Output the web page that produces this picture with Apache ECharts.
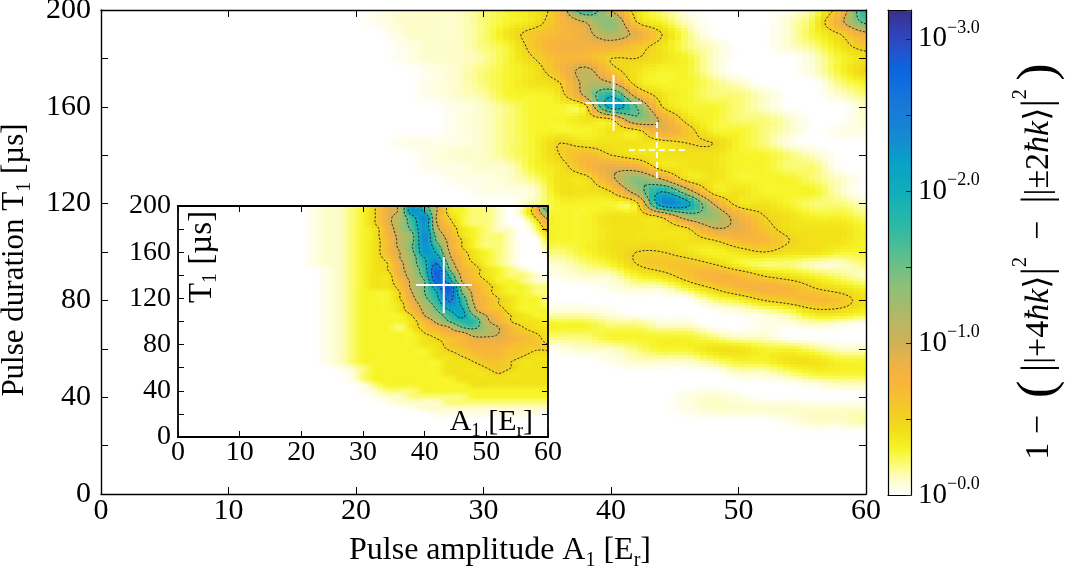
<!DOCTYPE html>
<html>
<head>
<meta charset="utf-8">
<script src="https://cdn.jsdelivr.net/npm/echarts@6.0.0/dist/echarts.min.js"></script>
<style>
html,body{margin:0;padding:0;background:#ffffff;}
#chart{width:1085px;height:570px;}
</style>
</head>
<body>
<div id="chart"></div>
<script>
// ---------------- data ----------------
// grid nodes: pulse amplitude A1 [Er] and pulse duration T1 [us]
const xNodes = [0,2,4,6,8,10,12,14,16,18,20,22,24,26,28,30,32,34,36,38,40,42,44,46,48,50,52,54,56,58,60];
const yNodes = [200,195,190,185,180,175,170,165,160,155,150,145,140,135,130,125,120,115,110,105,100,95,90,85,80,75,70,65,60,55,50,45,40,35,30,25,20,15,10,5,0];
// v = -log10(infidelity); one char per node: '0'..'9' = 0.0..0.9, 'a'..'w' = 1.0..3.2,
// '.' = 0.05, ',' = 0.15 (faint edges). Rows: T1 = 200 (top) ... 0 (bottom); columns: A1 = 0 ... 60
const mainRows = [
"0000000000"+"0.1112347ia42.000.27j",
"0000000000"+"0.1112347ae531000139g",
"0000000000"+"0011124679c9520001359",
"0000000000"+"00.112368886421001246",
"0000000000"+"00.11,357755431000134",
"0000000000"+"000.12347b64331000135",
"0000000000"+"000.12345ba4332100023",
"0000000000"+"000.1,334bj8432210012",
"0000000000"+"0000.12334mf533210001",
"0000000000"+"0000.123345e943221001",
"0000000000"+"0000.12333449633210..",
"0000000000"+"00...123544445532.000",
"0000000000"+"000.11235754444332100",
"0000000000"+"000..1134798444332200",
"0000000000"+"0000..12449ea44333210",
"0000000000"+"00000..1445ckc4433310",
"0000000000"+"0000000,3334nla443221",
"0000000000"+"0000000333446dd854332",
"0000000000"+"00000003334445a964443",
"0000000000"+"000000033344445775443",
"0000000000"+"000000022345543454433",
"0000000000"+"000000011235665322112",
"0000000000"+"00000000.113468754321",
"0000000000"+"0000000000.1135787543",
"0000000000"+"000000000000002356764",
"0000000000"+"0000000111.0000.12443",
"0000000000"+"0000000333221100..1.0",
"0000000000"+"000000022233332110000",
"0000000000"+"00000000.112334433211",
"0000000000"+"0000000000.1112334433",
"0000000000"+"000000000000000112333",
"0000000000"+"000000000000000000.11",
"0000000000"+"0000000000000.1.00000",
"0000000000"+"0000000000000.1111111",
"0000000000"+"00000000000000000.11,",
"0000000000"+"000000000000000000000",
"0000000000"+"000000000000000000000",
"0000000000"+"000000000000000000000",
"0000000000"+"000000000000000000000",
"0000000000"+"000000000000000000000",
"0000000000"+"000000000000000000000"
];
const insetRows = [
"00000000000"+".112359bnha43221017k",
"00000000000"+".112359bnja43221027f",
"00000000000"+".112359cio953221015b",
"00000000000"+".112359chna632210038",
"00000000000"+".112348cgnb743211026",
"00000000000"+".112348beod843221014",
"00000000000"+".112347beoe953221003",
"00000000000"+".112347bfnh953221002",
"00000000000"+".112347aenja64321001",
"00000000000"+".112346adkmb74321000",
"00000000000"+".1123459djpd75321000",
"00000000000"+"0.123459cisf86432100",
"00000000000"+"0.123448chtj96432210",
"00000000000"+"0.123447bfrma7533211",
"00000000000"+"0.123446bfntd8643322",
"00000000000"+"0.123335afksf9643322",
"00000000000"+"0.1233359ejqi9754332",
"00000000000"+"0.1233348choja754332",
"00000000000"+"0.1233347bfklb764333",
"00000000000"+"0.1233335adhlfa75433",
"00000000000"+"0.12333347bfiib85443",
"00000000000"+"0.123332468afgca7544",
"00000000000"+"0.12333335689cca7654",
"00000000000"+"0.123333345679998764",
"00000000000"+"0.123333344678887665",
"00000000000"+"0.123333334567776655",
"00000000000"+"0.123333334456776544",
"00000000000"+"0.123333333445665444",
"00000000000"+"00.12333333444565444",
"00000000000"+"000.2333333444454444",
"00000000000"+"000.2333333344444444",
"00000000000"+"0000.233333334444444",
"00000000000"+"0000.122233333333333",
"00000000000"+"00000.11222223333333",
"00000000000"+"000000.1111222222222",
"00000000000"+"00000000.11111111111",
"00000000000"+"0000000000.........",
"00000000000"+"00000000000000000000",
"00000000000"+"00000000000000000000",
"00000000000"+"00000000000000000000",
"00000000000"+"00000000000000000000"
];
const crossMain = [[40.2, 161.6]];
const crossMainDashed = [[43.6, 142.1]];
const crossInset = [[43.1, 131.6]];
const contourLevels = [0.5, 1.0, 1.5, 2.0, 2.5];
const cbTickLabels = [0, 1, 2, 3];
const V_MAX = 3.19;
// colour scale, evenly spaced from v = 0 (white) to v = V_MAX (dark navy)
const palette = ['#ffffff','#fdfdcc','#fbfb78','#f7f52a','#f2e318','#f1d322','#f5c62c','#f8b838','#f6b240',
  '#e6b249','#d0b157','#bfb65e','#aeba66','#9bbd70','#88bf7b','#70bf86','#55be92','#3ebb9c','#2ab8a6',
  '#1cb3b0','#10aebb','#0ca7c2','#0aa0c8','#1093ce','#1686d4','#177ed6','#1876d8','#116edc','#0a66e0',
  '#1c58d0','#2e48c2','#333ca6','#36308a'];

// ---------------- helpers ----------------
const FONT = "'Liberation Serif','DejaVu Serif','Times New Roman',serif";
const SPECIAL = {'.':0.05, ',':0.15};
function decode(rows){
  return rows.map(r => { const a = Array.from(r).map(ch => (ch in SPECIAL) ? SPECIAL[ch] : parseInt(ch,36)/10);
    while (a.length < xNodes.length) a.push(0); return a.slice(0, xNodes.length); });
}
const mainGrid = decode(mainRows);
const insetGrid = decode(insetRows);

function hexRgb(h){ return [parseInt(h.substr(1,2),16),parseInt(h.substr(3,2),16),parseInt(h.substr(5,2),16)]; }
function lerpColor(t){
  if (echarts.color && typeof echarts.color.lerp === 'function') return echarts.color.lerp(t, palette);
  const n = palette.length-1, f = t*n, i = Math.min(Math.floor(f), n-1), r = f-i;
  const a = hexRgb(palette[i]), b = hexRgb(palette[i+1]);
  return 'rgb('+a.map((c,k)=>Math.round(c+(b[k]-c)*r)).join(',')+')';
}
const colorCache = new Map();
function colorOf(v){
  const k = Math.max(0, Math.min(Math.round(v*100), Math.round(V_MAX*100)));
  let c = colorCache.get(k);
  if (!c){ c = lerpColor(k/100/V_MAX); colorCache.set(k,c); }
  return c;
}
// smooth (Catmull-Rom) resampling of the node grid, used for drawing and contouring
function cr(p0,p1,p2,p3,t){ return 0.5*(2*p1+(-p0+p2)*t+(2*p0-5*p1+4*p2-p3)*t*t+(-p0+3*p1-3*p2+p3)*t*t*t); }
function refine(G,S){
  const nx=xNodes.length, ny=yNodes.length, F=[];
  const g=(j,i)=>G[Math.max(0,Math.min(ny-1,j))][Math.max(0,Math.min(nx-1,i))];
  for (let fy=0; fy<=(ny-1)*S; fy++){
    const j=Math.min(Math.floor(fy/S), ny-2), w=fy/S-j, row=[];
    for (let fx=0; fx<=(nx-1)*S; fx++){
      const i=Math.min(Math.floor(fx/S), nx-2), u=fx/S-i, r=[];
      for (let k=-1;k<=2;k++) r.push(cr(g(j+k,i-1),g(j+k,i),g(j+k,i+1),g(j+k,i+2),u));
      row.push(Math.max(0, cr(r[0],r[1],r[2],r[3],w)));
    }
    F.push(row);
  }
  return F;
}
function cellData(G){
  const out = [];
  for (let j=0;j<yNodes.length-1;j++) for (let i=0;i<xNodes.length-1;i++){
    const tl=G[j][i], tr=G[j][i+1], bl=G[j+1][i], br=G[j+1][i+1];
    if (tl+tr+bl+br===0) continue;
    out.push([xNodes[i], yNodes[j+1], xNodes[i+1], yNodes[j], i, j]);
  }
  return out;
}
function heatRender(F,S){
  return function(params, api){
    const p0 = api.coord([api.value(0), api.value(1)]);   // bottom-left
    const p1 = api.coord([api.value(2), api.value(3)]);   // top-right
    const i = api.value(4), j = api.value(5);
    const children = [];
    for (let a=0;a<S;a++){
      const xa=Math.round(p0[0]+(p1[0]-p0[0])*a/S), xb=Math.round(p0[0]+(p1[0]-p0[0])*(a+1)/S);
      const fx=i*S+a;
      for (let b=0;b<S;b++){
        const fy=j*S+b;
        const v=(F[fy][fx]+F[fy][fx+1]+F[fy+1][fx]+F[fy+1][fx+1])/4;
        if (v<0.008) continue;
        const yt=Math.round(p1[1]+(p0[1]-p1[1])*b/S), yb=Math.round(p1[1]+(p0[1]-p1[1])*(b+1)/S);
        children.push({type:'rect', shape:{x:xa, y:yt, width:xb-xa, height:yb-yt}, style:{fill:colorOf(v)}});
      }
    }
    return {type:'group', children:children};
  };
}
function contourLines(F, S, level0){
  const L = level0 - 1e-3;
  const dx=(xNodes[1]-xNodes[0])/S, dy=(yNodes[0]-yNodes[1])/S, X0=xNodes[0], YT=yNodes[0];
  const pts=new Map(), segs=[];
  const rows=F.length, cols=F[0].length;
  function ep(key,xa,ya,va,xb,yb,vb){ if(!pts.has(key)){ const t=(L-va)/(vb-va); pts.set(key,[xa+(xb-xa)*t, ya+(yb-ya)*t]); } return key; }
  for (let fy=0; fy<rows-1; fy++) for (let fx=0; fx<cols-1; fx++){
    const a=F[fy][fx], b=F[fy][fx+1], c=F[fy+1][fx+1], d=F[fy+1][fx];
    const idx=(a>=L?8:0)|(b>=L?4:0)|(c>=L?2:0)|(d>=L?1:0);
    if (idx===0||idx===15) continue;
    const x0=X0+fx*dx, x1=x0+dx, yt=YT-fy*dy, yb=yt-dy;
    const T=()=>ep('h'+fy+'_'+fx,x0,yt,a,x1,yt,b);
    const B=()=>ep('h'+(fy+1)+'_'+fx,x0,yb,d,x1,yb,c);
    const Lf=()=>ep('v'+fy+'_'+fx,x0,yt,a,x0,yb,d);
    const R=()=>ep('v'+fy+'_'+(fx+1),x1,yt,b,x1,yb,c);
    const ctr=(a+b+c+d)/4>=L;
    switch(idx){
      case 1: case 14: segs.push([Lf(),B()]); break;
      case 2: case 13: segs.push([B(),R()]); break;
      case 3: case 12: segs.push([Lf(),R()]); break;
      case 4: case 11: segs.push([T(),R()]); break;
      case 6: case 9: segs.push([T(),B()]); break;
      case 7: case 8: segs.push([T(),Lf()]); break;
      case 5: if(ctr){segs.push([T(),Lf()]);segs.push([B(),R()]);} else {segs.push([T(),R()]);segs.push([Lf(),B()]);} break;
      case 10: if(ctr){segs.push([T(),R()]);segs.push([Lf(),B()]);} else {segs.push([T(),Lf()]);segs.push([B(),R()]);} break;
    }
  }
  const adj=new Map();
  segs.forEach((s,k)=>{ s.forEach(e=>{ if(!adj.has(e)) adj.set(e,[]); adj.get(e).push(k); }); });
  const used=new Array(segs.length).fill(false), lines=[];
  function grow(chain){
    while(true){
      const end=chain[chain.length-1], list=adj.get(end)||[];
      let nk=-1; for (const q of list) if(!used[q]){nk=q;break;}
      if (nk<0) break;
      used[nk]=true; const s=segs[nk]; chain.push(s[0]===end?s[1]:s[0]);
    }
  }
  for (let k=0;k<segs.length;k++){
    if (used[k]) continue;
    used[k]=true;
    const chain=[segs[k][0],segs[k][1]];
    grow(chain); chain.reverse(); grow(chain);
    lines.push(chain.map(key=>pts.get(key)));
  }
  return lines;
}
function allContours(F,S){
  let out=[];
  contourLevels.forEach(l=>{ out=out.concat(contourLines(F,S,l)); });
  return out;
}
const S_MAIN = 4, S_INSET = 4;
const mainFine = refine(mainGrid, S_MAIN);
const insetFine = refine(insetGrid, S_INSET);
const mainLines = allContours(mainFine, S_MAIN);
const insetLines = allContours(insetFine, S_INSET);

function heatSeries(G, F, S, xi, yi, z){
  return {type:'custom', xAxisIndex:xi, yAxisIndex:yi, z:z, silent:true, clip:true, progressive:0,
    encode:{x:[0,2], y:[1,3]}, data:cellData(G), renderItem:heatRender(F,S)};
}
function contourSeries(lines, xi, yi, z){
  return {type:'custom', xAxisIndex:xi, yAxisIndex:yi, z:z, silent:true, clip:true, progressive:0,
    encode:{x:0, y:1}, data:lines.map((ln,k)=>[ln[0][0], ln[0][1], k]),
    renderItem:function(params, api){
      const ln=lines[api.value(2)];
      return {type:'polyline', shape:{points:ln.map(p=>api.coord(p))},
        style:{stroke:'#1a1a1a', lineWidth:0.9, lineDash:[2.2,1.6], fill:null}};
    }};
}
function crossSeries(pts, xi, yi, dashed, z){
  return {type:'custom', xAxisIndex:xi, yAxisIndex:yi, z:z, silent:true, encode:{x:0,y:1}, data:pts,
    renderItem:function(params, api){
      const c=api.coord([api.value(0), api.value(1)]), h=28;
      const st={stroke:'#ffffff', lineWidth:2};
      if (dashed) st.lineDash=[6,4];
      return {type:'group', children:[
        {type:'line', shape:{x1:c[0]-h,y1:c[1],x2:c[0]+h,y2:c[1]}, style:Object.assign({},st)},
        {type:'line', shape:{x1:c[0],y1:c[1]-h,x2:c[0],y2:c[1]+h}, style:Object.assign({},st)}]};
    }};
}
const insetBg = {type:'custom', xAxisIndex:2, yAxisIndex:2, z:5, silent:true, encode:{x:[0,2],y:[1,3]},
  data:[[0,0,60,200]],
  renderItem:function(params, api){
    const p0=api.coord([api.value(0),api.value(1)]), p1=api.coord([api.value(2),api.value(3)]);
    return {type:'rect', shape:{x:p0[0], y:p1[1], width:p1[0]-p0[0], height:p0[1]-p1[1]}, style:{fill:'#ffffff'}};
  }};

// ---------------- axes ----------------
const black = '#000000';
function tick(len){ return {show:true, inside:true, length:len, lineStyle:{color:black, width:1}}; }
function line(w){ return {show:true, onZero:false, lineStyle:{color:black, width:w}}; }
const subRich = {s:{fontFamily:FONT, fontSize:20, lineHeight:20, verticalAlign:'bottom', color:black}};

const option = {
  animation:false,
  backgroundColor:'#ffffff',
  textStyle:{fontFamily:FONT},
  grid:[
    {left:101, top:10, width:765, height:484, outerBoundsMode:'none', containLabel:false},
    {left:178, top:206, width:370, height:231, outerBoundsMode:'none', containLabel:false},
    {left:888, top:10, width:23, height:485, outerBoundsMode:'none', containLabel:false}
  ],
  visualMap:{type:'continuous', min:0, max:V_MAX, inRange:{color:palette}, orient:'vertical',
    left:888, top:10, padding:0, itemWidth:23, itemHeight:485, calculable:false, hoverLink:false,
    text:null, seriesIndex:[], show:true, z:4},
  xAxis:[
    {gridIndex:0, type:'value', min:0, max:60, interval:10, position:'bottom', z:10,
      axisLine:line(1.4), axisTick:tick(7), splitLine:{show:false},
      axisLabel:{fontFamily:FONT, fontSize:30, color:black, margin:2},
      name:'Pulse amplitude A{s|1} [E{s|r}]', nameLocation:'middle', nameGap:34,
      nameTextStyle:{fontFamily:FONT, fontSize:32, color:black, lineHeight:40, padding:[0,0,0,33], rich:subRich}},
    {gridIndex:0, type:'value', min:0, max:60, interval:10, position:'top', z:10,
      axisLine:line(1.4), axisTick:tick(7), axisLabel:{show:false}, splitLine:{show:false}},
    {gridIndex:1, type:'value', min:0, max:60, interval:10, position:'bottom', z:20,
      axisLine:line(1.8), axisTick:tick(6), splitLine:{show:false},
      axisLabel:{fontFamily:FONT, fontSize:28, color:black, margin:2}},
    {gridIndex:1, type:'value', min:0, max:60, interval:10, position:'top', z:20,
      axisLine:line(1.8), axisTick:tick(6), axisLabel:{show:false}, splitLine:{show:false}},
    {gridIndex:2, type:'value', min:0, max:1, position:'bottom', z:10,
      axisLine:line(1.2), axisTick:{show:false}, axisLabel:{show:false}, splitLine:{show:false}},
    {gridIndex:2, type:'value', min:0, max:1, position:'top', z:10,
      axisLine:line(1.2), axisTick:{show:false}, axisLabel:{show:false}, splitLine:{show:false}}
  ],
  yAxis:[
    {gridIndex:0, type:'value', min:0, max:200, interval:20, position:'left', z:10,
      axisLine:line(1.4), axisTick:tick(7), splitLine:{show:false},
      axisLabel:{fontFamily:FONT, fontSize:30, color:black, margin:10, formatter:v=>(v%40===0?String(v):'')},
      name:'Pulse duration T{s|1} [µs]', nameLocation:'middle', nameGap:52,
      nameTextStyle:{fontFamily:FONT, fontSize:31, color:black, lineHeight:40, padding:[0,16,0,0], rich:subRich}},
    {gridIndex:0, type:'value', min:0, max:200, interval:20, position:'right', z:10,
      axisLine:line(1.4), axisTick:tick(7), axisLabel:{show:false}, splitLine:{show:false}},
    {gridIndex:1, type:'value', min:0, max:200, interval:20, position:'left', z:20,
      axisLine:line(1.8), axisTick:tick(6), splitLine:{show:false},
      axisLabel:{fontFamily:FONT, fontSize:28, color:black, margin:7, formatter:v=>(v%40===0?String(v):'')}},
    {gridIndex:1, type:'value', min:0, max:200, interval:20, position:'right', z:20,
      axisLine:line(1.8), axisTick:tick(6), axisLabel:{show:false}, splitLine:{show:false}},
    {gridIndex:2, type:'value', min:0, max:V_MAX, interval:0.5, position:'right', z:10,
      axisLine:line(1.2), axisTick:{show:true, inside:true, length:5, lineStyle:{color:'#222', width:1}},
      splitLine:{show:false},
      axisLabel:{fontFamily:FONT, fontSize:29, color:black, margin:7, lineHeight:40,
        formatter:v=>{ const r=Math.round(v); return (Math.abs(v-r)<1e-6 && cbTickLabels.indexOf(r)>=0) ? '10{sup|−'+r+'.0}' : ''; },
        rich:{sup:{fontFamily:FONT, fontSize:18, lineHeight:18, verticalAlign:'top', color:black}}},
      name:'1 −  {big|(} {bar||}|+4{i|ħk}⟩{bar||}{sup|2}  −  {bar||}|±2{i|ħk}⟩{bar||}{sup|2} {big|)}',
      nameLocation:'middle', nameGap:100,
      nameTextStyle:{fontFamily:FONT, fontSize:34, color:black, lineHeight:56, padding:[0,18,0,0],
        rich:{big:{fontFamily:FONT, fontSize:52, lineHeight:56, color:black},
              bar:{fontFamily:FONT, fontSize:42, lineHeight:56, color:black},
              i:{fontFamily:FONT, fontSize:34, lineHeight:56, fontStyle:'italic', color:black},
              sup:{fontFamily:FONT, fontSize:20, lineHeight:30, verticalAlign:'top', color:black}}}},
    {gridIndex:2, type:'value', min:0, max:V_MAX, position:'left', z:10,
      axisLine:line(1.2), axisTick:{show:false}, axisLabel:{show:false}, splitLine:{show:false}}
  ],
  graphic:[
    {type:'text', x:202, y:257, rotation:Math.PI/2, z:50, silent:true,
      style:{text:'T{s|1} [µs]', fontFamily:FONT, fontSize:33, fill:black, align:'center', verticalAlign:'middle', lineHeight:38,
        rich:{s:{fontFamily:FONT, fontSize:20, lineHeight:20, verticalAlign:'bottom', fill:black}}}},
    {type:'text', x:533, y:422, z:50, silent:true,
      style:{text:'A{s|1} [E{s|r}]', fontFamily:FONT, fontSize:30, fill:black, align:'right', verticalAlign:'middle', lineHeight:38,
        rich:{s:{fontFamily:FONT, fontSize:19, lineHeight:19, verticalAlign:'bottom', fill:black}}}}
  ],
  series:[
    heatSeries(mainGrid, mainFine, S_MAIN, 0, 0, 2),
    contourSeries(mainLines, 0, 0, 3),
    crossSeries(crossMain, 0, 0, false, 4),
    crossSeries(crossMainDashed, 0, 0, true, 4),
    insetBg,
    heatSeries(insetGrid, insetFine, S_INSET, 2, 2, 6),
    contourSeries(insetLines, 2, 2, 7),
    crossSeries(crossInset, 2, 2, false, 8)
  ]
};
const chart = echarts.init(document.getElementById('chart'), null, {renderer:'canvas'});
chart.setOption(option);
</script>
</body>
</html>
